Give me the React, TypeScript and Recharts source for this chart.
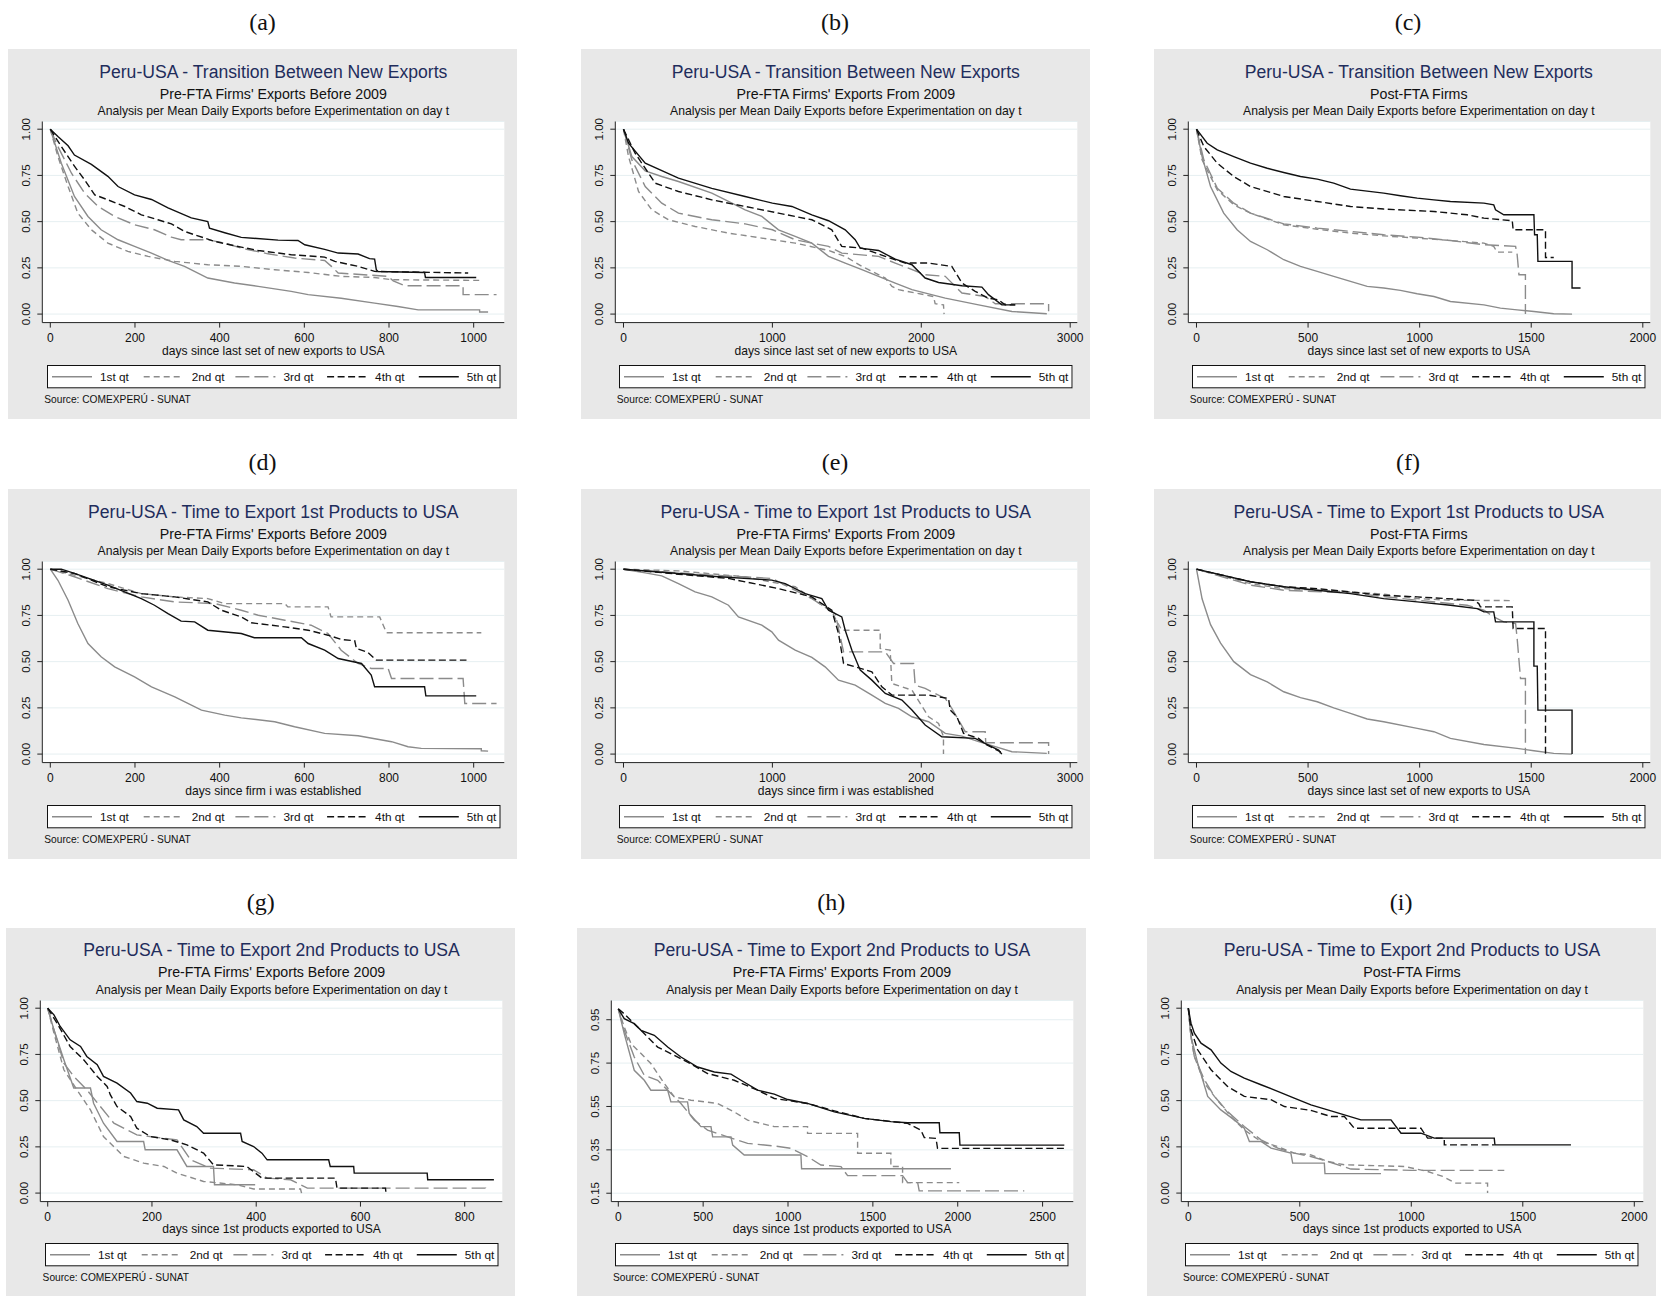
import React from 'react';
import { LineChart, Line, XAxis, YAxis, CartesianGrid } from 'recharts';

type Pt = [number, number];

// Kaplan-Meier survival estimates, [days, survival] per quintile of mean daily exports.
// A repeated day marks a vertical drop of the step function.

// Transition between new exports, pre-FTA firms, exports before 2009
const trPreQ1: Pt[] = [[0, 1], [26, 0.816], [57, 0.636], [89, 0.528], [120, 0.456], [160, 0.402], [199, 0.366], [239, 0.33], [278, 0.29], [317, 0.258], [372, 0.195], [435, 0.168], [491, 0.15], [569, 0.123], [609, 0.105], [687, 0.086], [766, 0.059], [821, 0.041], [869, 0.023], [1014, 0.023], [1014, 0.011], [1034, 0.011]];
const trPreQ2: Pt[] = [[0, 1], [18, 0.852], [42, 0.69], [65, 0.546], [97, 0.456], [136, 0.384], [183, 0.339], [231, 0.312], [294, 0.285], [372, 0.267], [451, 0.258], [530, 0.24], [609, 0.225], [687, 0.204], [766, 0.198], [806, 0.186], [1018, 0.182]];
const trPreQ3: Pt[] = [[0, 1], [18, 0.906], [50, 0.762], [81, 0.654], [113, 0.582], [152, 0.528], [199, 0.483], [246, 0.456], [286, 0.416], [309, 0.402], [372, 0.402], [412, 0.384], [451, 0.357], [514, 0.326], [577, 0.303], [648, 0.29], [664, 0.258], [680, 0.222], [798, 0.204], [810, 0.18], [837, 0.153], [975, 0.153], [975, 0.105], [1054, 0.105]];
const trPreQ4: Pt[] = [[0, 1], [26, 0.906], [57, 0.8], [81, 0.726], [105, 0.645], [136, 0.618], [176, 0.582], [215, 0.537], [254, 0.51], [286, 0.488], [317, 0.447], [341, 0.429], [388, 0.393], [451, 0.362], [491, 0.344], [569, 0.321], [648, 0.308], [672, 0.285], [727, 0.258], [766, 0.231], [987, 0.222]];
const trPreQ5: Pt[] = [[0, 1], [18, 0.96], [42, 0.91], [57, 0.86], [97, 0.81], [136, 0.745], [160, 0.69], [199, 0.645], [239, 0.62], [278, 0.575], [333, 0.52], [372, 0.5], [376, 0.465], [412, 0.44], [451, 0.415], [538, 0.4], [585, 0.398], [601, 0.375], [648, 0.35], [680, 0.33], [727, 0.325], [754, 0.3], [766, 0.297], [770, 0.24], [774, 0.23], [884, 0.225], [886, 0.198], [1006, 0.198]];

// Transition between new exports, pre-FTA firms, exports from 2009
const trFromQ1: Pt[] = [[0, 1], [56, 0.852], [146, 0.775], [257, 0.744], [369, 0.717], [593, 0.654], [705, 0.609], [817, 0.564], [929, 0.528], [1041, 0.456], [1153, 0.42], [1265, 0.384], [1377, 0.312], [1489, 0.276], [1601, 0.24], [1713, 0.204], [1825, 0.168], [1937, 0.132], [2161, 0.086], [2385, 0.05], [2609, 0.014], [2843, 0.002]];
const trFromQ2: Pt[] = [[0, 1], [34, 0.852], [101, 0.663], [190, 0.564], [302, 0.51], [481, 0.474], [705, 0.438], [929, 0.411], [1153, 0.384], [1377, 0.344], [1489, 0.312], [1601, 0.258], [1758, 0.195], [1803, 0.15], [1847, 0.132], [2082, 0.095], [2093, 0.056], [2149, 0.05], [2153, 0]];
const trFromQ3: Pt[] = [[0, 1], [56, 0.834], [146, 0.69], [257, 0.6], [369, 0.546], [593, 0.51], [817, 0.488], [1000, 0.456], [1153, 0.402], [1377, 0.366], [1466, 0.33], [1713, 0.312], [1825, 0.276], [2026, 0.213], [2161, 0.204], [2273, 0.114], [2429, 0.095], [2497, 0.056], [2855, 0.056], [2855, 0.015]];
const trFromQ4: Pt[] = [[0, 1], [78, 0.87], [213, 0.708], [369, 0.663], [593, 0.618], [817, 0.582], [1041, 0.546], [1265, 0.51], [1399, 0.456], [1466, 0.366], [1601, 0.357], [1758, 0.312], [1892, 0.276], [2049, 0.276], [2205, 0.258], [2273, 0.168], [2362, 0.123], [2451, 0.086], [2519, 0.077], [2563, 0.05], [2631, 0.05]];
const trFromQ5: Pt[] = [[0, 1], [34, 0.924], [146, 0.816], [369, 0.735], [593, 0.68], [817, 0.636], [1000, 0.6], [1131, 0.582], [1265, 0.537], [1377, 0.505], [1489, 0.456], [1556, 0.402], [1590, 0.357], [1713, 0.344], [1825, 0.297], [1937, 0.267], [2026, 0.195], [2116, 0.171], [2273, 0.153], [2407, 0.146], [2451, 0.105], [2541, 0.05], [2631, 0.05]];

// Transition between new exports, post-FTA firms
const trPostQ1: Pt[] = [[0, 1], [25, 0.852], [63, 0.69], [122, 0.546], [182, 0.456], [242, 0.393], [317, 0.348], [391, 0.294], [466, 0.258], [541, 0.231], [615, 0.204], [690, 0.177], [765, 0.15], [839, 0.141], [914, 0.128], [989, 0.11], [1064, 0.095], [1138, 0.068], [1288, 0.05], [1362, 0.032], [1437, 0.023], [1512, 0.014], [1601, 0.002], [1683, 0]];
const trPostQ2: Pt[] = [[0, 1], [25, 0.834], [93, 0.672], [167, 0.591], [242, 0.546], [391, 0.483], [541, 0.459], [690, 0.438], [839, 0.423], [989, 0.411], [1138, 0.398], [1288, 0.384], [1332, 0.366], [1347, 0.335], [1415, 0.335]];
const trPostQ3: Pt[] = [[0, 1], [33, 0.834], [93, 0.681], [167, 0.6], [242, 0.546], [391, 0.488], [541, 0.465], [690, 0.447], [839, 0.429], [989, 0.416], [1138, 0.398], [1288, 0.375], [1430, 0.366], [1437, 0.321], [1445, 0.213], [1474, 0.213], [1474, 0]];
const trPostQ4: Pt[] = [[0, 1], [33, 0.906], [93, 0.816], [167, 0.744], [242, 0.69], [391, 0.636], [541, 0.609], [690, 0.582], [839, 0.568], [1064, 0.555], [1213, 0.537], [1288, 0.519], [1415, 0.505], [1419, 0.456], [1564, 0.456], [1564, 0.306], [1601, 0.306]];
const trPostQ5: Pt[] = [[0, 1], [48, 0.924], [93, 0.888], [167, 0.852], [242, 0.816], [317, 0.789], [391, 0.766], [466, 0.744], [541, 0.73], [615, 0.708], [690, 0.676], [839, 0.654], [914, 0.64], [989, 0.627], [1064, 0.618], [1138, 0.609], [1288, 0.6], [1332, 0.591], [1340, 0.564], [1377, 0.537], [1512, 0.537], [1515, 0.429], [1527, 0.429], [1530, 0.285], [1683, 0.285], [1683, 0.141], [1721, 0.141]];

// Time to export 1st products, pre-FTA firms, exports before 2009
const firstPreQ1: Pt[] = [[0, 1], [18, 0.94], [42, 0.832], [65, 0.706], [89, 0.598], [120, 0.526], [152, 0.472], [199, 0.418], [239, 0.364], [294, 0.31], [357, 0.238], [412, 0.211], [451, 0.196], [530, 0.175], [577, 0.148], [648, 0.112], [727, 0.099], [806, 0.067], [845, 0.04], [876, 0.031], [1018, 0.029], [1018, 0.018], [1034, 0.016]];
const firstPreQ2: Pt[] = [[0, 1], [57, 0.968], [136, 0.922], [215, 0.868], [294, 0.85], [372, 0.841], [412, 0.814], [554, 0.814], [561, 0.796], [656, 0.796], [663, 0.742], [778, 0.742], [794, 0.656], [1018, 0.656]];
const firstPreQ3: Pt[] = [[0, 1], [57, 0.959], [136, 0.895], [215, 0.85], [294, 0.823], [389, 0.814], [451, 0.778], [491, 0.751], [554, 0.724], [616, 0.697], [656, 0.652], [687, 0.562], [727, 0.49], [758, 0.463], [798, 0.463], [806, 0.409], [975, 0.409], [979, 0.274], [1054, 0.274]];
const firstPreQ4: Pt[] = [[0, 1], [57, 0.977], [136, 0.905], [215, 0.868], [294, 0.85], [372, 0.823], [404, 0.778], [451, 0.742], [475, 0.71], [554, 0.688], [609, 0.67], [656, 0.643], [687, 0.62], [719, 0.613], [723, 0.571], [750, 0.55], [770, 0.508], [983, 0.508]];
const firstPreQ5: Pt[] = [[0, 1], [26, 1], [57, 0.977], [136, 0.914], [215, 0.841], [246, 0.805], [278, 0.76], [309, 0.719], [341, 0.715], [372, 0.67], [451, 0.652], [482, 0.629], [593, 0.629], [609, 0.598], [648, 0.562], [680, 0.517], [735, 0.49], [758, 0.427], [766, 0.364], [884, 0.364], [887, 0.315], [1006, 0.315]];

// Time to export 1st products, pre-FTA firms, exports from 2009
const firstFromQ1: Pt[] = [[0, 1], [146, 0.98], [257, 0.964], [369, 0.922], [481, 0.877], [593, 0.85], [705, 0.805], [772, 0.742], [929, 0.697], [996, 0.661], [1041, 0.616], [1153, 0.562], [1265, 0.523], [1354, 0.472], [1444, 0.4], [1556, 0.373], [1668, 0.319], [1758, 0.274], [1847, 0.247], [1937, 0.202], [2049, 0.175], [2161, 0.112], [2273, 0.097], [2385, 0.067], [2497, 0.04], [2609, 0.013], [2843, 0.004]];
const firstFromQ2: Pt[] = [[0, 1], [369, 0.991], [817, 0.959], [1153, 0.905], [1399, 0.769], [1466, 0.67], [1724, 0.67], [1724, 0.571], [1791, 0.562], [1802, 0.382], [1937, 0.346], [2049, 0.202], [2116, 0.166], [2149, 0.094], [2149, 0]];
const firstFromQ3: Pt[] = [[0, 1], [593, 0.968], [996, 0.95], [1265, 0.841], [1422, 0.76], [1478, 0.553], [1758, 0.553], [1814, 0.49], [1948, 0.49], [1959, 0.373], [2026, 0.355], [2161, 0.301], [2205, 0.247], [2295, 0.121], [2429, 0.121], [2433, 0.061], [2855, 0.061], [2855, 0]];
const firstFromQ4: Pt[] = [[0, 1], [369, 0.973], [705, 0.95], [1041, 0.895], [1265, 0.85], [1399, 0.778], [1444, 0.652], [1478, 0.49], [1556, 0.472], [1668, 0.445], [1735, 0.364], [1803, 0.319], [2049, 0.319], [2183, 0.301], [2194, 0.238], [2239, 0.202], [2284, 0.112], [2385, 0.085], [2440, 0.049], [2530, 0.013], [2530, 0]];
const firstFromQ5: Pt[] = [[0, 1], [369, 0.977], [593, 0.962], [996, 0.941], [1086, 0.922], [1220, 0.868], [1332, 0.841], [1377, 0.778], [1466, 0.742], [1489, 0.67], [1534, 0.562], [1590, 0.454], [1668, 0.4], [1758, 0.328], [1870, 0.292], [1937, 0.238], [2026, 0.157], [2138, 0.094], [2362, 0.085], [2451, 0.049], [2519, 0.022], [2541, 0]];

// Time to export 1st products, post-FTA firms
const firstPostQ1: Pt[] = [[0, 1], [25, 0.84], [63, 0.7], [108, 0.6], [167, 0.5], [242, 0.43], [317, 0.39], [391, 0.337], [466, 0.305], [541, 0.283], [615, 0.25], [690, 0.22], [765, 0.19], [839, 0.175], [989, 0.139], [1064, 0.121], [1138, 0.085], [1288, 0.052], [1437, 0.031], [1512, 0.018], [1601, 0.004], [1683, 0]];
const firstPostQ2: Pt[] = [[0, 1], [242, 0.922], [391, 0.895], [541, 0.886], [690, 0.877], [839, 0.865], [989, 0.841], [1138, 0.832], [1422, 0.83]];
const firstPostQ3: Pt[] = [[0, 1], [242, 0.914], [391, 0.886], [690, 0.872], [989, 0.832], [1213, 0.805], [1288, 0.778], [1332, 0.742], [1377, 0.715], [1430, 0.706], [1437, 0.625], [1452, 0.409], [1474, 0.409], [1474, 0]];
const firstPostQ4: Pt[] = [[0, 1], [242, 0.932], [391, 0.905], [541, 0.895], [690, 0.877], [839, 0.859], [989, 0.85], [1243, 0.832], [1265, 0.814], [1272, 0.796], [1415, 0.796], [1419, 0.679], [1564, 0.679], [1564, 0]];
const firstPostQ5: Pt[] = [[0, 1], [242, 0.932], [391, 0.905], [541, 0.886], [690, 0.868], [839, 0.841], [989, 0.823], [1138, 0.805], [1258, 0.787], [1288, 0.769], [1332, 0.769], [1340, 0.715], [1512, 0.715], [1512, 0.476], [1527, 0.476], [1530, 0.238], [1683, 0.238], [1683, 0]];

// Time to export 2nd products, pre-FTA firms, exports before 2009
const secondPreQ1: Pt[] = [[0, 1], [12, 0.883], [31, 0.721], [50, 0.568], [82, 0.568], [88, 0.486], [107, 0.378], [133, 0.279], [184, 0.279], [187, 0.234], [248, 0.234], [267, 0.144], [318, 0.144], [320, 0.045], [398, 0.045]];
const secondPreQ2: Pt[] = [[0, 1], [12, 0.865], [31, 0.667], [56, 0.559], [82, 0.45], [107, 0.306], [146, 0.198], [184, 0.162], [223, 0.144], [248, 0.108], [299, 0.063], [363, 0.045], [395, 0.022], [485, 0.022], [487, 0]];
const secondPreQ3: Pt[] = [[0, 1], [12, 0.883], [31, 0.703], [50, 0.631], [75, 0.559], [101, 0.468], [127, 0.378], [171, 0.315], [203, 0.303], [248, 0.288], [274, 0.18], [312, 0.135], [395, 0.126], [421, 0.081], [466, 0.072], [498, 0.027], [840, 0.027], [841, 0]];
const secondPreQ4: Pt[] = [[0, 1], [18, 0.919], [43, 0.793], [69, 0.721], [95, 0.631], [114, 0.577], [120, 0.532], [133, 0.468], [159, 0.414], [171, 0.351], [197, 0.306], [235, 0.288], [267, 0.261], [299, 0.216], [318, 0.153], [382, 0.144], [411, 0.081], [552, 0.081], [555, 0.027], [648, 0.027], [649, 0]];
const secondPreQ5: Pt[] = [[0, 1], [12, 0.964], [24, 0.901], [43, 0.829], [63, 0.793], [75, 0.739], [95, 0.694], [107, 0.631], [133, 0.595], [159, 0.541], [171, 0.495], [191, 0.486], [210, 0.459], [251, 0.45], [261, 0.396], [286, 0.36], [299, 0.324], [370, 0.324], [373, 0.279], [395, 0.252], [411, 0.216], [421, 0.18], [539, 0.18], [542, 0.144], [587, 0.144], [588, 0.108], [728, 0.108], [729, 0.072], [856, 0.072]];

// Time to export 2nd products, pre-FTA firms, exports from 2009
const secondFromQ1: Pt[] = [[0, 1], [35, 0.886], [94, 0.717], [153, 0.671], [192, 0.625], [291, 0.625], [310, 0.571], [408, 0.571], [418, 0.518], [487, 0.457], [546, 0.457], [556, 0.41], [664, 0.41], [674, 0.372], [742, 0.326], [1076, 0.326], [1080, 0.263], [1960, 0.263]];
const secondFromQ2: Pt[] = [[0, 1], [35, 0.916], [75, 0.84], [134, 0.794], [192, 0.748], [271, 0.656], [330, 0.594], [428, 0.579], [585, 0.564], [683, 0.525], [762, 0.487], [919, 0.457], [1115, 0.457], [1115, 0.426], [1410, 0.426], [1410, 0.334], [1606, 0.334], [1606, 0.273], [1675, 0.273], [1675, 0.199], [2009, 0.199]];
const secondFromQ3: Pt[] = [[0, 1], [35, 0.901], [94, 0.778], [153, 0.694], [232, 0.671], [291, 0.625], [369, 0.564], [448, 0.487], [526, 0.441], [644, 0.41], [762, 0.38], [919, 0.368], [1017, 0.357], [1115, 0.319], [1194, 0.28], [1312, 0.273], [1351, 0.231], [1675, 0.231], [1705, 0.199], [1764, 0.199], [1773, 0.161], [2392, 0.161]];
const secondFromQ4: Pt[] = [[0, 1], [35, 0.977], [134, 0.901], [232, 0.824], [330, 0.786], [408, 0.755], [526, 0.702], [683, 0.671], [821, 0.625], [919, 0.587], [1115, 0.564], [1273, 0.53], [1449, 0.495], [1705, 0.472], [1783, 0.441], [1803, 0.407], [1872, 0.403], [1881, 0.357], [2628, 0.357]];
const secondFromQ5: Pt[] = [[0, 1], [35, 0.955], [94, 0.932], [134, 0.901], [212, 0.878], [291, 0.824], [369, 0.778], [467, 0.732], [566, 0.709], [664, 0.699], [723, 0.671], [821, 0.625], [919, 0.607], [998, 0.582], [1115, 0.564], [1273, 0.525], [1449, 0.495], [1606, 0.48], [1705, 0.475], [1891, 0.475], [1895, 0.429], [2009, 0.429], [2013, 0.372], [2628, 0.372]];

// Time to export 2nd products, post-FTA firms
const secondPostQ1: Pt[] = [[0, 1], [12, 0.847], [42, 0.703], [87, 0.523], [146, 0.45], [206, 0.396], [251, 0.351], [274, 0.279], [326, 0.279], [371, 0.243], [460, 0.216], [468, 0.162], [610, 0.162], [613, 0.105], [864, 0.105]];
const secondPostQ2: Pt[] = [[0, 1], [12, 0.847], [27, 0.739], [72, 0.595], [117, 0.523], [191, 0.414], [251, 0.342], [326, 0.279], [401, 0.252], [475, 0.216], [550, 0.207], [625, 0.171], [700, 0.153], [969, 0.144], [1073, 0.117], [1141, 0.09], [1200, 0.054], [1342, 0.054], [1342, 0]];
const secondPostQ3: Pt[] = [[0, 1], [12, 0.847], [27, 0.739], [72, 0.613], [117, 0.523], [176, 0.441], [251, 0.36], [326, 0.288], [401, 0.243], [475, 0.216], [550, 0.198], [625, 0.171], [729, 0.13], [999, 0.123], [1417, 0.123]];
const secondPostQ4: Pt[] = [[0, 1], [12, 0.883], [42, 0.775], [102, 0.667], [176, 0.577], [251, 0.523], [371, 0.505], [431, 0.468], [550, 0.447], [640, 0.414], [700, 0.414], [744, 0.351], [1043, 0.351], [1073, 0.297], [1148, 0.297], [1148, 0.261], [1372, 0.261]];
const secondPostQ5: Pt[] = [[0, 1], [12, 0.919], [27, 0.865], [57, 0.811], [102, 0.775], [146, 0.703], [191, 0.658], [251, 0.622], [326, 0.586], [401, 0.55], [475, 0.514], [550, 0.477], [625, 0.45], [700, 0.423], [774, 0.396], [909, 0.396], [954, 0.324], [1043, 0.324], [1103, 0.297], [1372, 0.297], [1375, 0.261], [1716, 0.261]];

// Axis ticks
const ticks1000 = [0, 200, 400, 600, 800, 1000];
const ticks3000 = [0, 1000, 2000, 3000];
const ticks2000 = [0, 500, 1000, 1500, 2000];
const ticks800 = [0, 200, 400, 600, 800];
const ticks2500 = [0, 500, 1000, 1500, 2000, 2500];
const survTicks = [0, 0.25, 0.5, 0.75, 1];
const survTicksLow = [0.15, 0.35, 0.55, 0.75, 0.95];

const quintiles = ['1st qt', '2nd qt', '3rd qt', '4th qt', '5th qt'];

const titleTransition = 'Peru-USA - Transition Between New Exports';
const titleFirst = 'Peru-USA - Time to Export 1st Products to USA';
const titleSecond = 'Peru-USA - Time to Export 2nd Products to USA';
const subBefore = "Pre-FTA Firms' Exports Before 2009";
const subFrom = "Pre-FTA Firms' Exports From 2009";
const subPost = 'Post-FTA Firms';
const noteText = 'Analysis per Mean Daily Exports before Experimentation on day t';
const xLastSet = 'days since last set of new exports to USA';
const xEstablished = 'days since firm i was established';
const xFirstProducts = 'days since 1st products exported to USA';
const sourceText = 'Source: COMEXPERÚ - SUNAT';

// Layout
const PANEL_W = 509;
const PANEL_H = 370;
const PLOT = { left: 34.3, right: 496.3, top: 72.5, bottom: 273.6 };
const CHART_H = PLOT.bottom + 26;
const SANS = '"Liberation Sans", Arial, Helvetica, sans-serif';
const BG = '#e8e8e8';
const NAVY = '#1f2d5c';
const GRAY = '#8b8b8b';
const DARK = '#111111';
const GRID = '#e6eff1';

const quintileStyle = [
  { stroke: GRAY, dash: undefined as string | undefined },
  { stroke: GRAY, dash: '6 4' },
  { stroke: GRAY, dash: '14 5' },
  { stroke: DARK, dash: '7 3.5' },
  { stroke: DARK, dash: undefined as string | undefined },
];

const yDomainFull: [number, number] = [-0.046, 1.0416];
const yDomainLow: [number, number] = [0.1114, 1.0387];

interface PanelSpec {
  tag: string;
  left: number;
  top: number;
  labelY: number;
  title: string;
  subtitle: string;
  xTitle: string;
  xDomain: [number, number];
  xTicks: number[];
  yDomain: [number, number];
  yTicks: number[];
  series: Pt[][];
}

const rowTop = [49.3, 489.3, 927.7];
const rowLabel = [22, 462.3, 902.3];

const panels: PanelSpec[] = [
  { tag: 'a', left: 8, top: rowTop[0], labelY: rowLabel[0], title: titleTransition, subtitle: subBefore, xTitle: xLastSet, xDomain: [-18.9, 1072.3], xTicks: ticks1000, yDomain: yDomainFull, yTicks: survTicks, series: [trPreQ1, trPreQ2, trPreQ3, trPreQ4, trPreQ5] },
  { tag: 'b', left: 580.5, top: rowTop[0], labelY: rowLabel[0], title: titleTransition, subtitle: subFrom, xTitle: xLastSet, xDomain: [-55, 3047.7], xTicks: ticks3000, yDomain: yDomainFull, yTicks: survTicks, series: [trFromQ1, trFromQ2, trFromQ3, trFromQ4, trFromQ5] },
  { tag: 'c', left: 1153.5, top: rowTop[0], labelY: rowLabel[0], title: titleTransition, subtitle: subPost, xTitle: xLastSet, xDomain: [-36.7, 2033.6], xTicks: ticks2000, yDomain: yDomainFull, yTicks: survTicks, series: [trPostQ1, trPostQ2, trPostQ3, trPostQ4, trPostQ5] },
  { tag: 'd', left: 8, top: rowTop[1], labelY: rowLabel[1], title: titleFirst, subtitle: subBefore, xTitle: xEstablished, xDomain: [-18.9, 1072.3], xTicks: ticks1000, yDomain: yDomainFull, yTicks: survTicks, series: [firstPreQ1, firstPreQ2, firstPreQ3, firstPreQ4, firstPreQ5] },
  { tag: 'e', left: 580.5, top: rowTop[1], labelY: rowLabel[1], title: titleFirst, subtitle: subFrom, xTitle: xEstablished, xDomain: [-55, 3047.7], xTicks: ticks3000, yDomain: yDomainFull, yTicks: survTicks, series: [firstFromQ1, firstFromQ2, firstFromQ3, firstFromQ4, firstFromQ5] },
  { tag: 'f', left: 1153.5, top: rowTop[1], labelY: rowLabel[1], title: titleFirst, subtitle: subPost, xTitle: xLastSet, xDomain: [-36.7, 2033.6], xTicks: ticks2000, yDomain: yDomainFull, yTicks: survTicks, series: [firstPostQ1, firstPostQ2, firstPostQ3, firstPostQ4, firstPostQ5] },
  { tag: 'g', left: 6.3, top: rowTop[2], labelY: rowLabel[2], title: titleSecond, subtitle: subBefore, xTitle: xFirstProducts, xDomain: [-14.2, 872.1], xTicks: ticks800, yDomain: yDomainFull, yTicks: survTicks, series: [secondPreQ1, secondPreQ2, secondPreQ3, secondPreQ4, secondPreQ5] },
  { tag: 'h', left: 576.7, top: rowTop[2], labelY: rowLabel[2], title: titleSecond, subtitle: subFrom, xTitle: xFirstProducts, xDomain: [-41.2, 2680.9], xTicks: ticks2500, yDomain: yDomainLow, yTicks: survTicksLow, series: [secondFromQ1, secondFromQ2, secondFromQ3, secondFromQ4, secondFromQ5] },
  { tag: 'i', left: 1146.7, top: rowTop[2], labelY: rowLabel[2], title: titleSecond, subtitle: subPost, xTitle: xFirstProducts, xDomain: [-31.4, 2040.4], xTicks: ticks2000, yDomain: yDomainFull, yTicks: survTicks, series: [secondPostQ1, secondPostQ2, secondPostQ3, secondPostQ4, secondPostQ5] },
];

const toRows = (pts: Pt[]) => pts.map(([t, s]) => ({ t, s }));

const XTick = ({ x, y, payload }: any) => (
  <text x={x} y={y + 10} textAnchor="middle" dominantBaseline="central" fontSize={12} fontFamily={SANS} fill="#111">
    {payload.value}
  </text>
);

const YTick = ({ x, y, payload }: any) => {
  const cx = x - 11;
  return (
    <text x={cx} y={y} transform={`rotate(-90, ${cx}, ${y})`} textAnchor="middle" dominantBaseline="central" fontSize={11.5} fontFamily={SANS} fill="#111">
      {Number(payload.value).toFixed(2)}
    </text>
  );
};

function Centered({ x, y, size, color = '#111', children }: { x: number; y: number; size: number; color?: string; children: React.ReactNode }) {
  return (
    <div style={{ position: 'absolute', left: x, top: y, transform: 'translate(-50%, -50%)', fontSize: size, lineHeight: 1, color, whiteSpace: 'nowrap', fontFamily: SANS }}>
      {children}
    </div>
  );
}

function KeyBox() {
  const w = 453.5;
  const h = 23.3;
  const step = 91.7;
  return (
    <svg width={w} height={h} style={{ position: 'absolute', left: 38.5, top: 315.3, background: '#fff', overflow: 'visible' }}>
      <rect x={0.5} y={0.5} width={w - 1} height={h - 1} fill="#fff" stroke="#111" strokeWidth={1} />
      {quintiles.map((name, i) => {
        const x0 = 5 + i * step;
        const st = quintileStyle[i];
        return (
          <g key={name}>
            <line x1={x0} x2={x0 + 40} y1={h / 2} y2={h / 2} stroke={st.stroke} strokeWidth={1.5} strokeDasharray={st.dash} />
            <text x={x0 + 48} y={h / 2} dominantBaseline="central" fontSize={11.8} fontFamily={SANS} fill="#111">{name}</text>
          </g>
        );
      })}
    </svg>
  );
}

function Panel({ p }: { p: PanelSpec }) {
  const cx = (PLOT.left + PLOT.right) / 2;
  return (
    <>
      <div style={{ position: 'absolute', left: p.left + PANEL_W / 2, top: p.labelY, transform: 'translate(-50%, -50%)', fontFamily: '"Liberation Serif", "Times New Roman", serif', fontSize: 24, lineHeight: 1, color: '#111' }}>
        ({p.tag})
      </div>
      <div style={{ position: 'absolute', left: p.left, top: p.top, width: PANEL_W, height: PANEL_H, background: BG }}>
        <Centered x={cx} y={23.5} size={17.6} color={NAVY}>{p.title}</Centered>
        <Centered x={cx} y={44.6} size={14.2}>{p.subtitle}</Centered>
        <Centered x={cx} y={62.2} size={12.2}>{noteText}</Centered>
        <div style={{ position: 'absolute', left: 0, top: 0 }}>
          <LineChart width={PANEL_W} height={CHART_H} margin={{ top: PLOT.top, right: PANEL_W - PLOT.right, bottom: 0, left: 0 }}>
            <CartesianGrid vertical={false} stroke={GRID} strokeWidth={1} fill="#fff" fillOpacity={1} />
            <XAxis
              type="number"
              dataKey="t"
              domain={p.xDomain}
              ticks={p.xTicks}
              allowDataOverflow
              height={CHART_H - PLOT.bottom}
              tickSize={5}
              tickMargin={0}
              axisLine={{ stroke: '#222', strokeWidth: 1 }}
              tickLine={{ stroke: '#222', strokeWidth: 1 }}
              tick={XTick}
            />
            <YAxis
              type="number"
              domain={p.yDomain}
              ticks={p.yTicks}
              allowDataOverflow
              width={PLOT.left}
              tickSize={5}
              tickMargin={0}
              axisLine={{ stroke: '#222', strokeWidth: 1 }}
              tickLine={{ stroke: '#222', strokeWidth: 1 }}
              tick={YTick}
            />
            {p.series.map((pts, i) => (
              <Line
                key={quintiles[i]}
                data={toRows(pts)}
                dataKey="s"
                name={quintiles[i]}
                type="linear"
                stroke={quintileStyle[i].stroke}
                strokeWidth={1.4}
                strokeDasharray={quintileStyle[i].dash}
                dot={false}
                activeDot={false}
                isAnimationActive={false}
              />
            ))}
          </LineChart>
        </div>
        <Centered x={cx} y={301.3} size={12.1}>{p.xTitle}</Centered>
        <KeyBox />
        <div style={{ position: 'absolute', left: 36.3, top: 350.7, transform: 'translateY(-50%)', fontSize: 10.2, lineHeight: 1, fontFamily: SANS, color: '#111', whiteSpace: 'nowrap' }}>
          {sourceText}
        </div>
      </div>
    </>
  );
}

export default function App() {
  return (
    <div style={{ position: 'absolute', left: 0, top: 0, width: 1661, height: 1296, background: '#fff', overflow: 'hidden' }}>
      {panels.map((p) => (
        <Panel key={p.tag} p={p} />
      ))}
    </div>
  );
}
